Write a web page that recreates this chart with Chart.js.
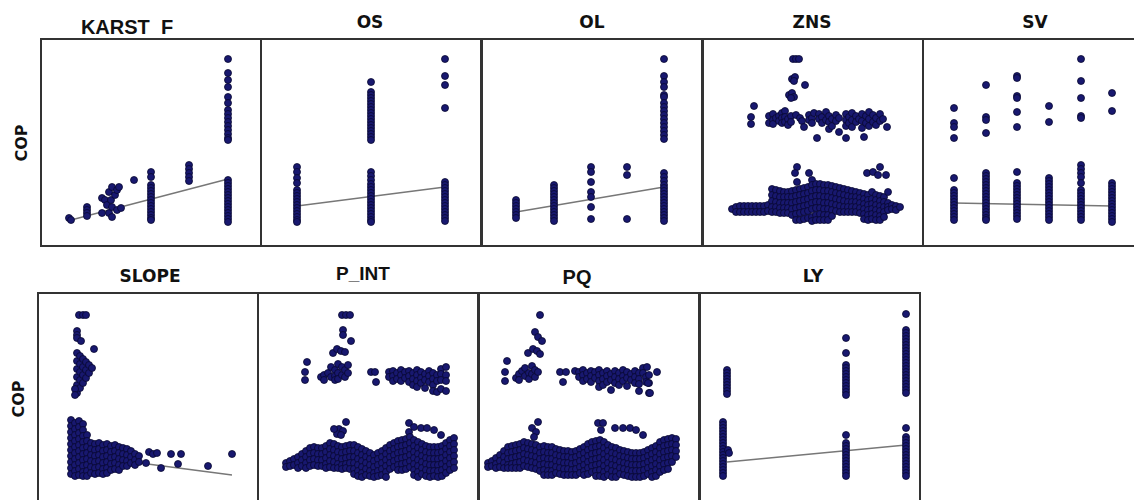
<!DOCTYPE html>
<html>
<head>
<meta charset="utf-8">
<script src="https://cdn.jsdelivr.net/npm/chart.js@4.4.1/dist/chart.umd.min.js"></script>
<style>
  body { margin: 0; background: #fff; width: 1134px; height: 500px; overflow: hidden; position: relative; }
  canvas { position: absolute; }
  .ttl { position: absolute; transform: translate(-50%, -50%); line-height: 1; white-space: pre; color: #111; }
  .dj { font: bold 17px "DejaVu Sans"; }
  .ls { font: bold 19px "Liberation Sans"; }
  .cop { position: absolute; transform: translate(-50%, -50%) rotate(-90deg); font: bold 16px "DejaVu Sans"; line-height: 1; color: #111; }
</style>
</head>
<body>
<div class="ttl ls" style="left:127px;top:27px;font-size:20px">KARST  F</div>
<div class="ttl dj" style="left:370px;top:22px">OS</div>
<div class="ttl dj" style="left:592px;top:22px">OL</div>
<div class="ttl dj" style="left:812px;top:22px">ZNS</div>
<div class="ttl dj" style="left:1035px;top:22px">SV</div>
<div class="ttl dj" style="left:150px;top:276px">SLOPE</div>
<div class="ttl ls" style="left:363px;top:274px">P_INT</div>
<div class="ttl ls" style="left:577px;top:277px;font-size:20px">PQ</div>
<div class="ttl dj" style="left:813px;top:276px">LY</div>
<div class="cop" style="left:22px;top:143px">COP</div>
<div class="cop" style="left:19px;top:399px">COP</div>

<canvas id="kf" width="222" height="209" style="left:40px;top:38px"></canvas>
<canvas id="os" width="222" height="209" style="left:260px;top:38px"></canvas>
<canvas id="ol" width="222" height="209" style="left:481px;top:38px"></canvas>
<canvas id="zns" width="222" height="209" style="left:702px;top:38px"></canvas>
<canvas id="sv" width="222" height="209" style="left:922px;top:38px"></canvas>
<canvas id="slope" width="222" height="212" style="left:37px;top:292px"></canvas>
<canvas id="pint" width="222" height="212" style="left:257px;top:292px"></canvas>
<canvas id="pq" width="222" height="212" style="left:478px;top:292px"></canvas>
<canvas id="ly" width="222" height="212" style="left:699px;top:292px"></canvas>

<script>
// each entry: [x, y1, y2, ...] -> points at x with those COP values
var kfCop = [
    [29, 29], [31, 27],
    [47, 40, 37, 34, 31],
    [62, 49, 34], [65, 47], [67, 42], [69, 55, 34], [71, 47], [72, 60, 40, 30], [75, 52], [77, 57, 37], [79, 60], [81, 39],
    [94, 67],
    [111, 75, 70, 62, 59, 56, 53, 50, 47, 44, 41, 38, 35, 32, 29, 27],
    [149, 82, 78, 74, 70, 66],
    [188, 188, 174, 167, 160, 150, 144, 137, 133, 129, 125, 121, 117, 113, 109, 107, 67, 64, 61, 58, 55, 52, 49, 46, 43, 40, 37, 34, 31, 28, 25]
];
var kfFit = [[31, 27], [188, 68]];

var osCop = [
    [37, 80, 75, 69, 64, 57, 54, 51, 48, 45, 42, 39, 36, 33, 30, 27, 25],
    [111, 165, 155, 152, 149, 146, 143, 140, 137, 134, 131, 128, 125, 122, 119, 116, 113, 110, 107,
        75, 71, 67, 63, 60, 57, 54, 51, 48, 45, 42, 39, 36, 33, 30, 27, 25],
    [185, 188, 171, 162, 139, 65, 62, 59, 56, 53, 50, 47, 44, 41, 38, 35, 32, 29, 26]
];
var osFit = [[37, 41], [185, 60]];

var olCop = [
    [35, 47, 44, 41, 38, 35, 32, 29],
    [73, 62, 59, 56, 53, 50, 47, 44, 41, 38, 35, 32, 29, 26],
    [110, 80, 75, 65, 55, 50, 40, 28],
    [146, 80, 72, 28],
    [183, 188, 171, 165, 160, 152, 150, 144, 140, 136, 132, 128, 124, 120, 116, 112, 108,
        74, 70, 66, 62, 59, 56, 53, 50, 47, 44, 41, 38, 35, 32, 29, 26]
];
var olFit = [[35, 35], [183, 60]];

var znsCop = [
    [91, 188], [94, 188], [97, 188],
    [90, 168], [93, 170], [92, 166], [103, 162],
    [87, 152], [90, 154], [92, 150], [89, 149],
    [52, 141], [49, 130, 123],
    [67, 131, 124], [71, 133, 127, 123], [74, 129],
    [77, 131, 126], [80, 134, 129, 124], [83, 136, 130, 125], [86, 128, 122], [89, 131, 125],
    [94, 132], [98, 129], [100, 126], [102, 120],
    [107, 132, 127], [110, 129, 124], [112, 134], [115, 109],
    [117, 133, 128], [120, 130, 124], [124, 135, 127],
    [127, 131, 125, 118], [130, 128, 121], [134, 132, 126], [137, 129, 115], [144, 133, 127, 121, 109],
    [147, 130, 124], [150, 134, 127, 120], [154, 131, 125], [157, 128], [162, 110],
    [160, 133, 126, 119], [164, 131, 124], [167, 135, 128, 121], [171, 132, 125], [174, 129, 122],
    [178, 133, 126], [181, 128], [185, 120],
    [95, 80, 65], [93, 74], [107, 74], [110, 67],
    [165, 74], [171, 75], [178, 80], [184, 72], [176, 72],
    [30, 38], [34, 40, 35], [38, 41, 35], [42, 41, 35], [46, 41, 35], [50, 41, 35], [54, 41, 35], [58, 41, 35], [62, 41, 35], [66, 42, 36],
    [70, 58, 52, 46, 40, 35], [74, 57, 51, 45, 40, 35], [78, 56, 50, 44, 39, 34], [82, 55, 50, 44, 39, 34],
    [86, 55, 50, 44, 39, 34], [90, 56, 50, 44, 38, 32],
    [94, 57, 51, 45, 39, 33, 27], [98, 58, 52, 46, 40, 34, 27], [102, 59, 53, 47, 41, 35, 28],
    [106, 60, 54, 48, 42, 36, 29], [110, 62, 56, 50, 44, 38, 30, 26], [114, 63, 57, 51, 45, 39, 32, 27],
    [118, 63, 57, 51, 45, 39, 33, 27], [122, 62, 56, 50, 44, 38, 32, 27], [126, 62, 56, 50, 44, 38, 32, 27],
    [130, 61, 55, 49, 43, 37, 31],
    [134, 60, 54, 48, 42, 36], [138, 59, 53, 47, 41, 35], [142, 58, 52, 46, 40, 35], [146, 57, 51, 45, 40, 35],
    [150, 56, 50, 45, 40, 35], [154, 55, 50, 45, 40, 35], [158, 54, 49, 44, 39, 34],
    [162, 53, 48, 43, 38, 33, 28], [166, 52, 47, 42, 37, 32, 27], [170, 55, 48, 43, 38, 33, 28],
    [174, 52, 47, 42, 37, 32, 27], [178, 51, 46, 41, 36, 31, 27], [182, 50, 45, 40, 35, 30],
    [186, 55, 44, 40, 37], [190, 42, 38], [194, 41, 37], [198, 40]
];

var svCop = [
    [32, 139, 124, 120, 109, 69, 57, 54, 51, 48, 45, 42, 39, 36, 33, 30, 27],
    [64, 162, 130, 127, 114, 74, 71, 68, 65, 62, 59, 56, 53, 50, 47, 44, 41, 38, 35, 32, 29, 27],
    [95, 171, 169, 151, 149, 135, 120, 75, 64, 61, 58, 55, 52, 49, 46, 43, 40, 37, 34, 31, 28],
    [127, 141, 125, 69, 66, 63, 60, 57, 54, 51, 48, 45, 42, 39, 36, 33, 30, 27],
    [159, 188, 166, 149, 131, 129, 82, 78, 74, 70, 64, 57, 54, 51, 48, 45, 42, 39, 36, 33, 30, 27],
    [190, 154, 136, 64, 61, 58, 55, 52, 49, 46, 43, 40, 37, 34, 31, 28, 25]
];
var svFit = [[32, 44], [190, 41]];

var slopeCop = [
    [42, 186], [46, 186], [49, 186],
    [40, 170, 166, 163], [44, 160], [57, 152],
    [40, 148, 140, 132, 124, 116, 108], [43, 145, 137, 129, 121, 113], [46, 142, 134, 126, 118],
    [49, 139, 131, 123], [52, 136, 128], [55, 133], [38, 112, 106],
    [34, 81, 75, 69, 63, 57, 51, 45, 39, 33, 27], [38, 78, 72, 66, 60, 54, 48, 42, 36, 30, 25],
    [42, 80, 74, 68, 62, 56, 50, 44, 38, 32, 26], [46, 77, 71, 65, 59, 53, 47, 41, 35, 29, 25],
    [50, 66, 60, 54, 48, 42, 36, 30, 25],
    [54, 58, 52, 46, 40, 34, 28], [58, 57, 51, 45, 39, 33, 27], [62, 58, 52, 46, 40, 34, 28],
    [66, 56, 50, 44, 38, 32, 27], [70, 57, 51, 45, 39, 33, 28], [74, 55, 49, 43, 37, 31],
    [78, 56, 50, 44, 38, 32], [82, 54, 48, 42, 36, 31], [86, 53, 47, 41, 35], [90, 52, 46, 40, 35],
    [94, 50, 44, 38], [98, 47, 41, 36], [102, 45, 39],
    [112, 49], [116, 47], [120, 48], [109, 38], [124, 33], [134, 47], [144, 47], [141, 37], [171, 35], [195, 47]
];
var slopeFit = [[34, 47], [195, 26]];

var pintCop = [
    [85, 186], [89, 186], [93, 186], [86, 171, 166], [94, 160],
    [76, 148], [80, 152], [84, 150], [88, 149],
    [50, 139], [48, 129, 121],
    [64, 124], [67, 126, 121], [71, 128], [74, 134, 124], [78, 131, 125, 121], [81, 137, 128, 122],
    [85, 134, 126], [88, 131, 124], [91, 136, 128],
    [114, 129], [118, 129], [119, 119],
    [132, 129, 124], [136, 130, 125, 120], [140, 128, 122], [144, 131, 126, 120], [148, 129, 123],
    [152, 130, 125, 119], [156, 128, 122, 116], [160, 131, 126, 120, 114], [164, 129, 123, 118],
    [168, 127, 121, 113], [172, 130, 125, 119], [176, 128, 122, 116, 110], [180, 126, 120, 109],
    [184, 132, 127, 121, 112], [189, 134, 126, 120, 110],
    [89, 79], [82, 72], [86, 70], [80, 67], [84, 66], [77, 72],
    [152, 78, 69], [157, 74], [164, 73], [170, 73], [177, 71], [184, 66],
    [29, 38, 34], [33, 40, 35], [37, 42, 36], [41, 44, 38, 33], [45, 47, 41, 35], [49, 50, 44, 38, 33],
    [53, 53, 47, 41, 35], [57, 54, 48, 42, 36], [61, 53, 47, 41, 35], [65, 53, 47, 41, 35],
    [69, 55, 49, 43, 37, 33], [73, 58, 52, 46, 40, 34], [77, 57, 51, 45, 39, 33], [81, 55, 49, 43, 37, 33],
    [85, 54, 48, 42, 36, 32], [89, 55, 49, 43, 37, 33], [93, 56, 50, 44, 38, 32], [97, 56, 50, 44, 38, 32, 27],
    [101, 54, 48, 42, 36, 30, 25], [105, 52, 46, 40, 34, 28, 24], [109, 50, 44, 38, 32, 26],
    [113, 48, 42, 36, 30, 25], [117, 46, 40, 34, 28, 24], [121, 48, 42, 36, 30, 25], [125, 50, 44, 38, 32, 26],
    [129, 53, 47, 41, 35, 29, 24], [133, 56, 50, 44, 38, 32], [137, 58, 52, 46, 40, 34],
    [141, 60, 54, 48, 42, 36, 31], [145, 61, 55, 49, 43, 37, 31], [149, 62, 56, 50, 44, 38, 32],
    [153, 64, 58, 52, 46, 40, 34], [157, 61, 55, 49, 43, 37, 31, 26], [161, 59, 53, 47, 41, 35, 29, 24],
    [165, 57, 51, 45, 39, 33, 27], [169, 55, 49, 43, 37, 31, 25], [173, 54, 48, 42, 36, 30, 24],
    [177, 54, 48, 42, 36, 30, 25], [181, 54, 48, 42, 36, 30, 24], [185, 55, 49, 43, 37, 31, 25],
    [189, 58, 52, 46, 40, 34, 28], [193, 61, 55, 49, 43, 37, 31], [197, 63, 57, 51, 45, 39, 33]
];

var pqCop = [
    [62, 186], [57, 169], [60, 164], [64, 160],
    [50, 148], [55, 152], [59, 150], [62, 147],
    [29, 140], [27, 129, 120],
    [38, 123], [41, 127, 121], [44, 130], [47, 133, 125], [51, 128, 122], [54, 135, 127], [57, 131, 124], [60, 129],
    [82, 129], [88, 129], [85, 119],
    [97, 130], [101, 129, 124], [105, 131, 126, 120], [109, 128, 122], [113, 130, 125, 119], [117, 129, 123],
    [121, 131, 126, 120, 114], [125, 128, 122, 116], [129, 130, 125, 119], [133, 127, 121, 111],
    [137, 130, 124, 118], [141, 128, 122, 116], [145, 131, 125, 120], [149, 129, 123, 115], [153, 127, 121],
    [157, 130, 124, 118], [161, 128, 122, 117, 110], [165, 133, 128], [168, 124, 119], [171, 126, 118, 108],
    [169, 134], [179, 129], [170, 118], [172, 108],
    [60, 79], [54, 73], [58, 69], [56, 64],
    [120, 78], [125, 78], [123, 71], [137, 73], [145, 73], [152, 73], [158, 71], [165, 66],
    [10, 38, 34], [14, 40, 35], [18, 43, 37, 33], [22, 46, 40, 34], [26, 50, 44, 38, 33], [30, 54, 48, 42, 36, 33],
    [34, 55, 49, 43, 37, 33], [38, 56, 50, 44, 38, 33], [42, 57, 51, 45, 39, 33], [46, 59, 53, 47, 41, 35],
    [50, 58, 52, 46, 40, 34], [54, 57, 51, 45, 39, 33], [58, 56, 50, 44, 38, 32], [62, 54, 48, 42, 36, 30],
    [66, 55, 49, 43, 37, 31, 26], [70, 54, 48, 42, 36, 30, 26], [74, 54, 48, 42, 36, 30, 26],
    [78, 52, 46, 40, 34, 28], [82, 51, 45, 39, 33, 27], [86, 50, 44, 38, 32, 26], [90, 50, 44, 38, 32, 26],
    [94, 49, 43, 37, 31, 26], [98, 50, 44, 38, 32, 26], [102, 52, 46, 40, 34, 28], [106, 54, 48, 42, 36, 30, 26],
    [110, 57, 51, 45, 39, 33, 27], [114, 59, 53, 47, 41, 35, 29], [118, 60, 54, 48, 42, 36, 30, 25],
    [122, 61, 55, 49, 43, 37, 31, 25], [126, 59, 53, 47, 41, 35, 29, 24], [130, 56, 50, 44, 38, 32, 26],
    [134, 54, 48, 42, 36, 30, 24], [138, 53, 47, 41, 35, 29, 24], [142, 51, 45, 39, 33, 27],
    [146, 50, 44, 38, 32, 26], [150, 49, 43, 37, 31, 25], [154, 48, 42, 36, 30, 24], [158, 48, 42, 36, 30, 24],
    [162, 48, 42, 36, 30, 24], [166, 49, 43, 37, 31, 25], [170, 51, 45, 39, 33, 27], [174, 53, 47, 41, 35, 29, 24],
    [178, 55, 49, 43, 37, 31, 25], [182, 59, 53, 47, 41, 35, 29], [186, 61, 55, 49, 43, 37, 31],
    [190, 62, 56, 50, 44, 38, 32], [194, 63, 57, 51, 45, 39], [198, 62, 56, 50, 44]
];

var lyCop = [
    [28, 131, 128, 125, 122, 119, 116, 113, 110, 107],
    [24, 79, 76, 73, 70, 67, 64, 61, 58, 55, 52, 49, 46, 43, 40, 37, 34, 31, 28, 25],
    [29, 51], [30, 48],
    [147, 163, 148, 136, 133, 130, 127, 124, 121, 118, 115, 112, 109, 106,
        66, 58, 55, 52, 49, 46, 43, 40, 37, 34, 31, 28, 25],
    [207, 187, 171, 168, 165, 162, 159, 156, 153, 150, 147, 144, 141, 138, 135, 132, 129, 126, 123, 120, 117, 114, 111, 108,
        73, 64, 61, 58, 55, 52, 49, 46, 43, 40, 37, 34, 31, 28, 25]
];
var lyFit = [[28, 39], [207, 56]];

var POINTCOLOR = '#18186f';
var EDGECOLOR = '#07072e';
var FITCOLOR = '#777777';

// draws the panel frame on top of everything
var framePlugin = {
    id: 'frame',
    afterDraw: function (chart) {
        var ctx = chart.ctx;
        ctx.save();
        ctx.strokeStyle = '#333333';
        ctx.lineWidth = 2;
        ctx.strokeRect(1, 1, chart.width - 2, chart.height - 2);
        ctx.restore();
    }
};

function toPoints(strips) {
    var pts = [];
    strips.forEach(function (s) {
        for (var i = 1; i < s.length; i++) {
            pts.push({ x: s[0], y: s[i] });
        }
    });
    return pts;
}

function makePanel(id, strips, fit, yMin) {
    var datasets = [{
        data: toPoints(strips),
        pointRadius: 3.5,
        pointBackgroundColor: POINTCOLOR,
        pointBorderColor: EDGECOLOR,
        pointBorderWidth: 0.8,
        order: 0
    }];
    if (fit) {
        datasets.push({
            type: 'line',
            data: fit.map(function (p) { return { x: p[0], y: p[1] }; }),
            borderColor: FITCOLOR,
            borderWidth: 1.4,
            pointRadius: 0,
            order: 1
        });
    }
    new Chart(document.getElementById(id), {
        type: 'scatter',
        data: { datasets: datasets },
        plugins: [framePlugin],
        options: {
            responsive: false,
            animation: false,
            events: [],
            layout: { padding: 0, autoPadding: false },
            plugins: { legend: { display: false }, tooltip: { enabled: false } },
            scales: {
                x: { type: 'linear', display: false, min: 0, max: 222 },
                y: { type: 'linear', display: false, min: yMin, max: 209 }
            }
        }
    });
}

makePanel('kf', kfCop, kfFit, 0);
makePanel('os', osCop, osFit, 0);
makePanel('ol', olCop, olFit, 0);
makePanel('zns', znsCop, null, 0);
makePanel('sv', svCop, svFit, 0);
makePanel('slope', slopeCop, slopeFit, -3);
makePanel('pint', pintCop, null, -3);
makePanel('pq', pqCop, null, -3);
makePanel('ly', lyCop, lyFit, -3);
</script>
</body>
</html>
